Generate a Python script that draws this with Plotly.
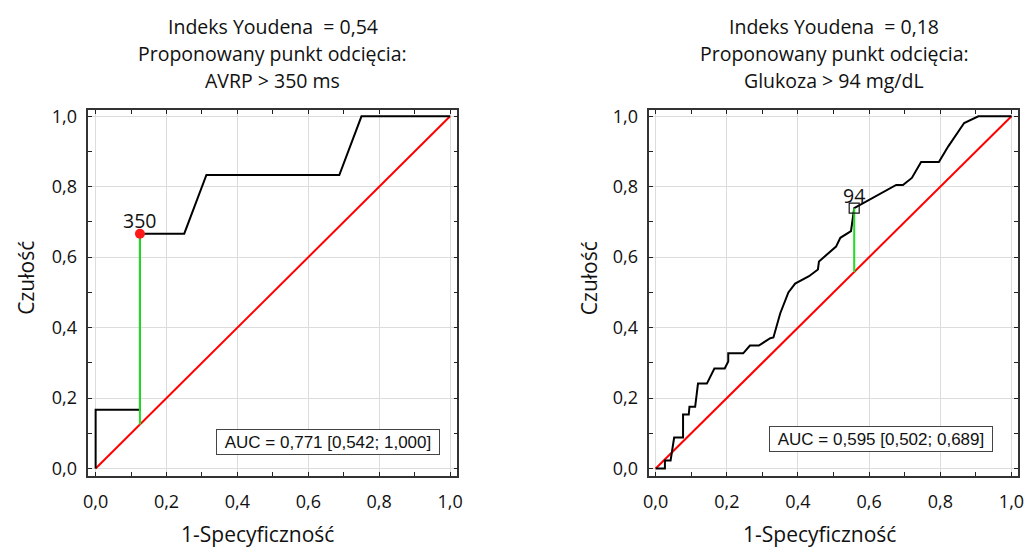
import plotly.graph_objects as go

# ---------------- data ----------------
tick_vals = [0.0, 0.2, 0.4, 0.6, 0.8, 1.0]
tick_text = ["0,0", "0,2", "0,4", "0,6", "0,8", "1,0"]
minor_vals = [0.1, 0.3, 0.5, 0.7, 0.9]

# AVRP ROC curve
avrp_fpr = [0.0, 0.0, 0.125, 0.125, 0.25, 0.3125, 0.6875, 0.75, 1.0]
avrp_tpr = [0.0, 0.1667, 0.1667, 0.6667, 0.6667, 0.8333, 0.8333, 1.0, 1.0]
avrp_cut_fpr = 0.125
avrp_cut_tpr = 0.6667
avrp_cut_label = "350"
avrp_title = ["Indeks Youdena  = 0,54", "Proponowany punkt odcięcia:", "AVRP > 350 ms"]
avrp_auc = "AUC = 0,771 [0,542; 1,000]"

# Glukoza ROC curve
glu_fpr = [0.0, 0.026, 0.026, 0.042, 0.052, 0.077, 0.077, 0.093, 0.095, 0.111,
           0.119, 0.144, 0.165, 0.194, 0.204, 0.204, 0.246, 0.265, 0.290, 0.322,
           0.331, 0.350, 0.373, 0.392, 0.431, 0.456, 0.459, 0.507, 0.519, 0.549,
           0.558, 0.676, 0.695, 0.720, 0.746, 0.796, 0.822, 0.867, 0.907, 1.0]
glu_tpr = [0.0, 0.0, 0.023, 0.023, 0.088, 0.088, 0.153, 0.153, 0.175, 0.175,
           0.241, 0.241, 0.284, 0.284, 0.304, 0.327, 0.327, 0.349, 0.349, 0.370,
           0.372, 0.440, 0.500, 0.525, 0.546, 0.565, 0.588, 0.630, 0.655, 0.674,
           0.739, 0.805, 0.805, 0.825, 0.870, 0.870, 0.914, 0.981, 1.0, 1.0]
glu_cut_fpr = 0.558
glu_cut_tpr = 0.739
glu_cut_label = "94"
glu_title = ["Indeks Youdena  = 0,18", "Proponowany punkt odcięcia:", "Glukoza > 94 mg/dL"]
glu_auc = "AUC = 0,595 [0,502; 0,689]"

diag = [0.0, 1.0]

x_title = "1-Specyficzność"
y_title = "Czułość"

# ---------------- figure ----------------
FONT = "Open Sans"
W, H = 1032, 553
fig = go.Figure()

panels = [
    dict(xa="x", ya="y", fpr=avrp_fpr, tpr=avrp_tpr, cx=avrp_cut_fpr, cy=avrp_cut_tpr,
         lab=avrp_cut_label, marker=dict(symbol="circle", size=10, color="#ff1a1a",
                                          line=dict(width=0))),
    dict(xa="x2", ya="y2", fpr=glu_fpr, tpr=glu_tpr, cx=glu_cut_fpr, cy=glu_cut_tpr,
         lab=glu_cut_label, marker=dict(symbol="square-open", size=10, color="#111111",
                                         line=dict(width=1.2))),
]

for p in panels:
    # reference diagonal
    fig.add_trace(go.Scatter(x=diag, y=diag, xaxis=p["xa"], yaxis=p["ya"], mode="lines",
                             line=dict(color="#ff0000", width=2), showlegend=False,
                             hoverinfo="skip"))
    # ROC curve
    fig.add_trace(go.Scatter(x=p["fpr"], y=p["tpr"], xaxis=p["xa"], yaxis=p["ya"],
                             mode="lines", line=dict(color="#000000", width=2),
                             showlegend=False))
    # Youden segment
    fig.add_trace(go.Scatter(x=[p["cx"], p["cx"]], y=[p["cx"], p["cy"]],
                             xaxis=p["xa"], yaxis=p["ya"], mode="lines",
                             line=dict(color="#22dd22", width=2), showlegend=False))
    # cut-off point
    fig.add_trace(go.Scatter(x=[p["cx"]], y=[p["cy"]], xaxis=p["xa"], yaxis=p["ya"],
                             mode="markers", marker=p["marker"], showlegend=False))

axis_common = dict(
    tickmode="array", tickvals=tick_vals, ticktext=tick_text,
    ticks="inside", ticklen=4, tickwidth=1, tickcolor="#222",
    mirror="allticks", showline=True, linecolor="#333", linewidth=1.5,
    showgrid=True, gridcolor="#dcdcdc", gridwidth=1, zeroline=False,
    tickfont=dict(family=FONT, size=18, color="#111"),
    minor=dict(tickvals=minor_vals, ticks="inside", ticklen=4, tickwidth=1,
               tickcolor="#222", showgrid=False),
)

y_dom = [1 - 478.5 / H, 1 - 106 / H]
fig.update_layout(
    width=W, height=H, margin=dict(l=0, r=0, t=0, b=0),
    paper_bgcolor="white", plot_bgcolor="white", showlegend=False,
    xaxis=dict(domain=[83.3 / W, 456.7 / W], range=[-0.0206, 1.0206],
               anchor="y", ticklabelstandoff=9, **axis_common),
    yaxis=dict(domain=y_dom, range=[-0.0209, 1.0176], anchor="x",
               ticklabelstandoff=6, **axis_common),
    xaxis2=dict(domain=[651 / W, 1024 / W], range=[-0.0175, 1.0186],
                anchor="y2", ticklabelstandoff=9, **axis_common),
    yaxis2=dict(domain=y_dom, range=[-0.0209, 1.0176], anchor="x2",
                ticklabelstandoff=6, **axis_common),
)

ann = []
# titles
for title, cx in [(avrp_title, 270), (glu_title, 838)]:
    for line, yc in zip(title, [21, 48, 76]):
        ann.append(dict(text=line, x=cx / W, y=1 - yc / H, xref="paper", yref="paper",
                        xanchor="center", yanchor="middle", showarrow=False,
                        font=dict(family=FONT, size=19.5, color="#111")))
# axis titles
for cx in [254, 823]:
    ann.append(dict(text=x_title, x=cx / W, y=1 - 538 / H, xref="paper", yref="paper",
                    xanchor="center", yanchor="middle", showarrow=False,
                    font=dict(family=FONT, size=21, color="#111")))
for cx in [20, 590]:
    ann.append(dict(text=y_title, x=cx / W, y=1 - 277 / H, xref="paper", yref="paper",
                    xanchor="center", yanchor="middle", showarrow=False, textangle=-90,
                    font=dict(family=FONT, size=21, color="#111")))
# cut-off labels
for p in panels:
    ann.append(dict(text=p["lab"], x=p["cx"], y=p["cy"], xref=p["xa"], yref=p["ya"],
                    xanchor="center", yanchor="middle", yshift=13, showarrow=False,
                    font=dict(family=FONT, size=19.5, color="#111")))
# AUC boxes
for txt, xa, ya, bx, by in [(avrp_auc, "x", "y", 0.6556, 0.0747),
                            (glu_auc, "x2", "y2", 0.6347, 0.083)]:
    ann.append(dict(text=txt, x=bx, y=by, xref=xa, yref=ya, xanchor="center",
                    yanchor="middle", showarrow=False, width=222, height=24,
                    bordercolor="#444", borderwidth=1, borderpad=0, bgcolor="white",
                    font=dict(family="Liberation Sans", size=17, color="#111")))
fig.update_layout(annotations=ann)

fig.write_html("out.html")
